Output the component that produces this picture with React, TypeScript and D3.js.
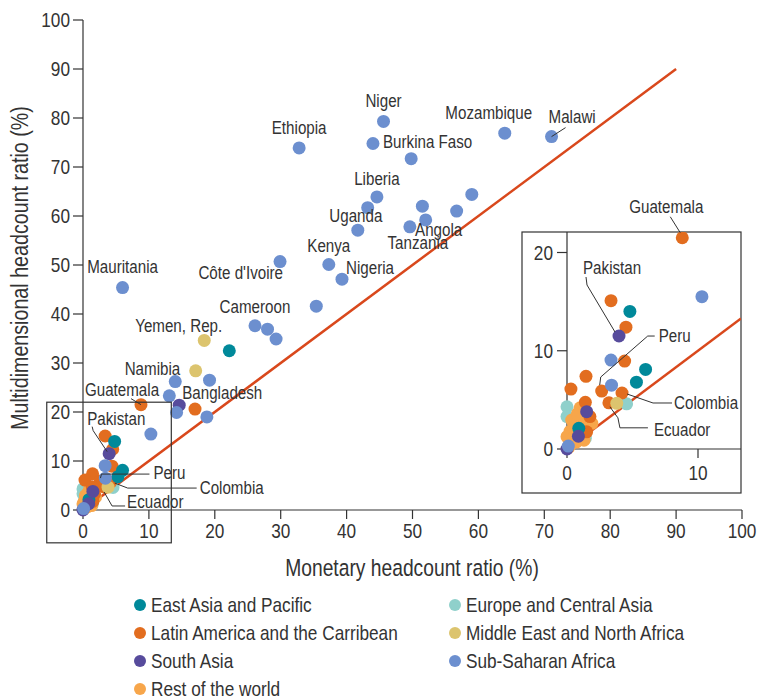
import React from "react";
import * as d3 from "d3";

// ---------- DATA ----------
const regions = [
  "East Asia and Pacific",
  "Europe and Central Asia",
  "Latin America and the Carribean",
  "Middle East and North Africa",
  "South Asia",
  "Sub-Saharan Africa",
  "Rest of the world",
];
const regionColors = ["#00899a", "#8fd0cb", "#e26d1f", "#dcc46e", "#574b9c", "#6c8fcf", "#f7a64b"];

// [monetary %, multidimensional %]
const restOfWorld: [number, number][] = [
  [1.0, 4.2], [0.36, 2.95], [1.1, 2.95], [0.6, 2.3], [0.23, 1.8], [1.25, 2.15],
  [0.0, 1.25], [0.5, 1.1], [1.0, 1.45], [1.6, 3.1], [0.8, 3.6], [0.3, 0.5],
  [1.3, 0.9], [0.7, 0.7], [1.9, 2.6], [0.15, 0.2],
];
const europeCentralAsia: [number, number][] = [
  [4.55, 4.6], [0.0, 4.3], [0.0, 3.3], [1.4, 1.1], [0.4, 0.8],
];
const eastAsiaPacific: [number, number][] = [
  [22.2, 32.5], [4.8, 14.0], [6.0, 8.1], [5.3, 6.8], [0.9, 2.1],
];
const latinAmerica: [number, number][] = [
  [8.8, 21.5], [17.0, 20.6], [3.36, 15.1], [4.5, 12.4], [4.4, 8.95], [1.45, 7.4],
  [0.3, 6.1], [2.65, 5.9], [4.2, 5.7], [3.2, 4.7], [1.4, 4.75], [1.75, 3.3], [1.5, 1.75],
];
const middleEast: [number, number][] = [[18.4, 34.6], [17.1, 28.4], [3.8, 4.65]];
const southAsia: [number, number][] = [
  [14.6, 21.4], [3.97, 11.5], [1.5, 3.8], [0.87, 1.3], [0.0, 0.0],
];
const subSaharan: [number, number][] = [
  [45.6, 79.3], [32.8, 73.9], [44.0, 74.8], [64.0, 76.9], [71.1, 76.2], [49.8, 71.7],
  [44.6, 63.9], [43.2, 61.7], [51.5, 62.0], [59.0, 64.4], [56.7, 61.0], [52.0, 59.2],
  [49.6, 57.8], [41.7, 57.1], [37.3, 50.1], [39.3, 47.1], [29.9, 50.7], [35.4, 41.6],
  [6.0, 45.4], [26.1, 37.6], [28.0, 36.9], [29.3, 34.9], [14.0, 26.2], [19.2, 26.5],
  [13.1, 23.3], [14.2, 19.9], [18.8, 19.0], [10.3, 15.5], [3.36, 9.05], [3.4, 6.5],
  [0.1, 0.3],
];
// drawing order (bottom to top)
const seriesOrder = [
  { region: 1, pts: europeCentralAsia },
  { region: 6, pts: restOfWorld },
  { region: 2, pts: latinAmerica },
  { region: 0, pts: eastAsiaPacific },
  { region: 3, pts: middleEast },
  { region: 4, pts: southAsia },
  { region: 5, pts: subSaharan },
];

const mainTicks = [0, 10, 20, 30, 40, 50, 60, 70, 80, 90, 100];
const insetXTicks = [0, 10];
const insetYTicks = [0, 10, 20];
const parityEnd = 90;

// label annotations: text, anchor point (data), offset (px), text-anchor, optional leader (offsets from point)
type Lab = { t: string; p: [number, number]; dx: number; dy: number; a: string; leader?: [number, number][] };
const mainLabels: Lab[] = [
  { t: "Niger", p: [45.6, 79.3], dx: 0, dy: -20, a: "middle" },
  { t: "Mozambique", p: [64.0, 76.9], dx: -16, dy: -20, a: "middle" },
  { t: "Malawi", p: [71.1, 76.2], dx: -3, dy: -20, a: "start", leader: [[0, 0], [14, -9]] },
  { t: "Ethiopia", p: [32.8, 73.9], dx: 0, dy: -20, a: "middle" },
  { t: "Burkina Faso", p: [44.0, 74.8], dx: 10, dy: -1, a: "start" },
  { t: "Liberia", p: [44.6, 63.9], dx: 0, dy: -18, a: "middle" },
  { t: "Uganda", p: [41.7, 57.1], dx: -2, dy: -14, a: "middle" },
  { t: "Angola", p: [52.0, 59.2], dx: 13, dy: 10, a: "middle" },
  { t: "Tanzania", p: [49.6, 57.8], dx: 8, dy: 16, a: "middle" },
  { t: "Kenya", p: [37.3, 50.1], dx: 0, dy: -19, a: "middle" },
  { t: "Nigeria", p: [39.3, 47.1], dx: 4, dy: -11, a: "start" },
  { t: "Côte d'Ivoire", p: [29.9, 50.7], dx: 3, dy: 11, a: "end" },
  { t: "Cameroon", p: [26.1, 37.6], dx: 0, dy: -19, a: "middle" },
  { t: "Mauritania", p: [6.0, 45.4], dx: 0, dy: -21, a: "middle" },
  { t: "Yemen, Rep.", p: [18.4, 34.6], dx: 18, dy: -14, a: "end" },
  { t: "Namibia", p: [14.0, 26.2], dx: 5, dy: -13, a: "end" },
  { t: "Guatemala", p: [8.8, 21.5], dx: -19, dy: -15, a: "middle", leader: [[-10, -6], [0, 0]] },
  { t: "Bangladesh", p: [14.6, 21.4], dx: 3, dy: -12, a: "start" },
  { t: "Pakistan", p: [3.97, 11.5], dx: -22, dy: -35, a: "start", leader: [[-17, -27], [-16, -23], [-2, -2]] },
  { t: "Peru", p: [2.65, 5.9], dx: 53, dy: -8, a: "start", leader: [[49, -7], [1, -7], [0, -3]] },
  { t: "Colombia", p: [4.2, 5.7], dx: 89, dy: 6, a: "start", leader: [[86, 6], [17, 6], [4, 1]] },
  { t: "Ecuador", p: [3.2, 4.7], dx: 23, dy: 15, a: "start", leader: [[21, 19], [8, 19], [0, 5]] },
];
const insetLabels: Lab[] = [
  { t: "Guatemala", p: [8.8, 21.5], dx: -16, dy: -31, a: "middle", leader: [[-12, -21], [-2, -5]] },
  { t: "Pakistan", p: [3.97, 11.5], dx: -36, dy: -68, a: "start", leader: [[-33, -59], [-32, -51], [-4, -4]] },
  { t: "Peru", p: [2.65, 5.9], dx: 57, dy: -55, a: "start", leader: [[53, -55], [46, -55], [-1, -14], [-2, -6]] },
  { t: "Colombia", p: [4.2, 5.7], dx: 52, dy: 10, a: "start", leader: [[50, 10], [31, 10], [5, 1]] },
  { t: "Ecuador", p: [3.2, 4.7], dx: 45, dy: 27, a: "start", leader: [[39, 25], [11, 25], [9, 15], [1, 4]] },
];

// ---------- LAYOUT ----------
const W = 770;
const H = 699;
const FONT = "'Liberation Sans', Arial, sans-serif";
const TEXT = "#333";
const R = 6.5;
const NARROW = 0.82;

const x = d3.scaleLinear().domain([0, 100]).range([83, 742]);
const y = d3.scaleLinear().domain([0, 100]).range([510, 20]);
const ix = d3.scaleLinear().domain([0, 10]).range([567, 698]);
const iy = d3.scaleLinear().domain([0, 20]).range([449, 252.5]);

const zoomRect = { x0: -5.5, x1: 13.4, y0: -6.7, y1: 22 };
const insetBox = { left: 522, top: 232, right: 741, bottom: 493 };

function T({ x: tx, y: ty, anchor = "start", size, rotate = 0, children }: any) {
  return (
    <text
      transform={`translate(${tx},${ty})${rotate ? ` rotate(${rotate})` : ""} scale(${NARROW},1)`}
      textAnchor={anchor}
      dominantBaseline="central"
      fontSize={size}
      fill={TEXT}
    >
      {children}
    </text>
  );
}

function Points({ sx, sy, clip }: { sx: any; sy: any; clip?: string }) {
  return (
    <g clipPath={clip}>
      {seriesOrder.map((s, si) =>
        s.pts.map((p, i) => (
          <circle key={si + "-" + i} cx={sx(p[0])} cy={sy(p[1])} r={R} fill={regionColors[s.region]} />
        ))
      )}
    </g>
  );
}

function Labels({ labs, sx, sy, size }: { labs: Lab[]; sx: any; sy: any; size: number }) {
  return (
    <g>
      {labs.map((l, i) => {
        const px = sx(l.p[0]);
        const py = sy(l.p[1]);
        return (
          <g key={i}>
            {l.leader && (
              <polyline
                points={l.leader.map((o) => `${px + o[0]},${py + o[1]}`).join(" ")}
                fill="none"
                stroke="#333"
                strokeWidth={1}
              />
            )}
            <T x={px + l.dx} y={py + l.dy} anchor={l.a} size={size}>
              {l.t}
            </T>
          </g>
        );
      })}
    </g>
  );
}

export default function App() {
  const lineColor = "#d9481c";
  const legendCols = [140, 455];
  const legendRows = [605, 633, 661, 689];
  const legendLayout = [
    [0, 0], [1, 0], [0, 1], [1, 1], [0, 2], [1, 2], [0, 3],
  ];
  const legendRegions = [0, 1, 2, 3, 4, 5, 6];

  return (
    <svg
      width={W}
      height={H}
      style={{ position: "absolute", left: 0, top: 0, background: "#fff" }}
      fontFamily={FONT}
    >
      <defs>
        <clipPath id="insetClip">
          <rect x={insetBox.left} y={insetBox.top} width={insetBox.right - insetBox.left} height={insetBox.bottom - insetBox.top} />
        </clipPath>
      </defs>

      {/* Main parity line */}
      <line x1={x(0)} y1={y(0)} x2={x(parityEnd)} y2={y(parityEnd)} stroke={lineColor} strokeWidth={2.5} />

      {/* Main axes */}
      <line x1={x(0)} y1={y(0)} x2={x(0)} y2={y(100)} stroke="#333" strokeWidth={1.2} />
      <line x1={x(0)} y1={y(0)} x2={x(100)} y2={y(0)} stroke="#333" strokeWidth={1.2} />
      {mainTicks.map((t) => (
        <g key={"y" + t}>
          <line x1={x(0) - 10} x2={x(0)} y1={y(t)} y2={y(t)} stroke="#333" strokeWidth={1.2} />
          <T x={x(0) - 13} y={y(t)} anchor="end" size={21}>
            {t}
          </T>
        </g>
      ))}
      {mainTicks.map((t) => (
        <g key={"x" + t}>
          <line x1={x(t)} x2={x(t)} y1={y(0)} y2={y(0) + 9} stroke="#333" strokeWidth={1.2} />
          <T x={x(t)} y={y(0) + 21} anchor="middle" size={21}>
            {t}
          </T>
        </g>
      ))}
      <T x={20} y={(y(0) + y(100)) / 2 + 3} anchor="middle" size={24} rotate={-90}>
        Multidimensional headcount ratio (%)
      </T>
      <T x={412} y={568} anchor="middle" size={23.5}>
        Monetary headcount ratio (%)
      </T>

      {/* Main points */}
      <Points sx={x} sy={y} />
      <Labels labs={mainLabels} sx={x} sy={y} size={18.5} />

      {/* zoom rectangle on main */}
      <rect
        x={x(zoomRect.x0)}
        y={y(zoomRect.y1)}
        width={x(zoomRect.x1) - x(zoomRect.x0)}
        height={y(zoomRect.y0) - y(zoomRect.y1)}
        fill="none"
        stroke="#333"
        strokeWidth={1.2}
      />

      {/* Inset */}
      <rect
        x={insetBox.left}
        y={insetBox.top}
        width={insetBox.right - insetBox.left}
        height={insetBox.bottom - insetBox.top}
        fill="#fff"
        stroke="#333"
        strokeWidth={1.2}
      />
      <g clipPath="url(#insetClip)">
        <line x1={ix(0)} y1={iy(0)} x2={insetBox.right} y2={iy(ix.invert(insetBox.right))} stroke={lineColor} strokeWidth={2.5} />
      </g>
      <line x1={ix(0)} y1={iy(0)} x2={ix(0)} y2={insetBox.top} stroke="#333" strokeWidth={1.2} />
      <line x1={ix(0)} y1={iy(0)} x2={insetBox.right} y2={iy(0)} stroke="#333" strokeWidth={1.2} />
      {insetYTicks.map((t) => (
        <g key={"iy" + t}>
          <line x1={ix(0) - 10} x2={ix(0)} y1={iy(t)} y2={iy(t)} stroke="#333" strokeWidth={1.2} />
          <T x={ix(0) - 14} y={iy(t)} anchor="end" size={21}>
            {t}
          </T>
        </g>
      ))}
      {insetXTicks.map((t) => (
        <g key={"ix" + t}>
          <line x1={ix(t)} x2={ix(t)} y1={iy(0)} y2={iy(0) + 9} stroke="#333" strokeWidth={1.2} />
          <T x={ix(t)} y={iy(0) + 24} anchor="middle" size={21}>
            {t}
          </T>
        </g>
      ))}
      <Points sx={ix} sy={iy} clip="url(#insetClip)" />
      <Labels labs={insetLabels} sx={ix} sy={iy} size={18.5} />

      {/* Legend */}
      {legendRegions.map((r, i) => {
        const [c, row] = legendLayout[i];
        return (
          <g key={"lg" + r}>
            <circle cx={legendCols[c]} cy={legendRows[row]} r={6} fill={regionColors[r]} />
            <T x={legendCols[c] + 11} y={legendRows[row]} size={21}>
              {regions[r]}
            </T>
          </g>
        );
      })}
    </svg>
  );
}
